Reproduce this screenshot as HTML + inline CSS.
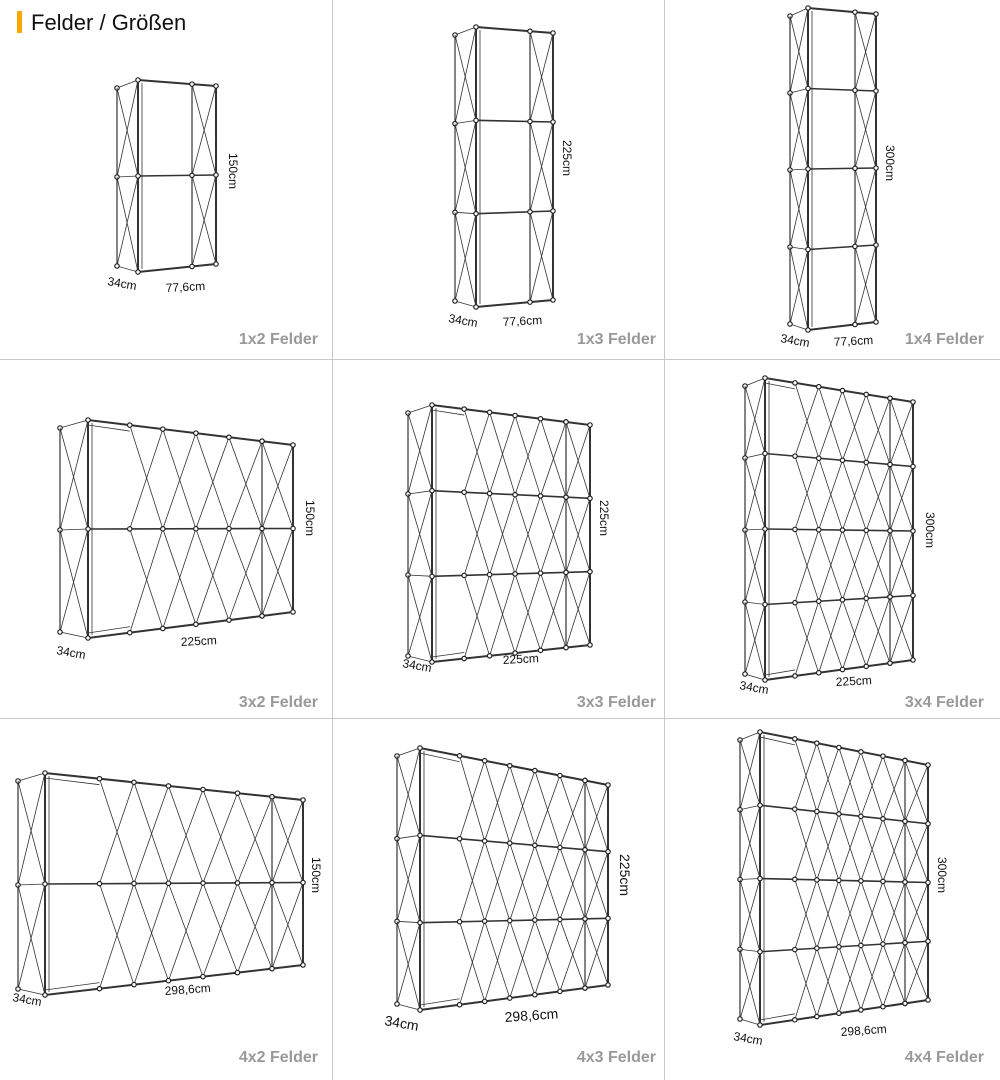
<!DOCTYPE html>
<html><head><meta charset="utf-8"><style>
body{margin:0;background:#fff;width:1000px;height:1080px;overflow:hidden;font-family:"Liberation Sans",sans-serif}
svg{position:absolute;left:0;top:0}
</style></head><body>
<svg id="s" width="1000" height="1080" xmlns="http://www.w3.org/2000/svg">
<rect x="0" y="0" width="1000" height="1080" fill="#fff"/>
<g stroke="#c8c8c8" stroke-width="1">
<line x1="332.5" y1="0" x2="332.5" y2="1080"/><line x1="664.5" y1="0" x2="664.5" y2="1080"/>
<line x1="0" y1="359.5" x2="1000" y2="359.5"/><line x1="0" y1="718.5" x2="1000" y2="718.5"/>
</g>
<rect x="17" y="11" width="5" height="22" fill="#f5a800"/>
<text x="31" y="30" font-size="22" fill="#111">Felder / Größen</text>
<g font-size="16" font-weight="bold" fill="#999" text-anchor="end">
<text x="318" y="344">1x2 Felder</text><text x="656" y="344">1x3 Felder</text><text x="984" y="344">1x4 Felder</text>
<text x="318" y="707">3x2 Felder</text><text x="656" y="707">3x3 Felder</text><text x="984" y="707">3x4 Felder</text>
<text x="318" y="1062">4x2 Felder</text><text x="656" y="1062">4x3 Felder</text><text x="984" y="1062">4x4 Felder</text>
</g>
<g id="fr"></g>
<g font-size="12" fill="#111" id="lb"></g>
</svg>
<script>
var NS="http://www.w3.org/2000/svg",g=document.getElementById('fr'),lb=document.getElementById('lb');
function ln(x1,y1,x2,y2,w){var e=document.createElementNS(NS,'line');e.setAttribute('x1',x1);e.setAttribute('y1',y1);e.setAttribute('x2',x2);e.setAttribute('y2',y2);e.setAttribute('stroke','#333');e.setAttribute('stroke-width',w||0.9);g.appendChild(e);}
function dot(x,y){var e=document.createElementNS(NS,'circle');e.setAttribute('cx',x);e.setAttribute('cy',y);e.setAttribute('r',2.2);e.setAttribute('fill','#fff');e.setAttribute('stroke','#222');e.setAttribute('stroke-width',1.2);g.appendChild(e);}
function tx(x,y,t,rot,fs){var e=document.createElementNS(NS,'text');e.setAttribute('x',x);e.setAttribute('y',y);e.textContent=t;if(fs)e.setAttribute('font-size',fs);if(rot)e.setAttribute('transform','rotate('+rot+' '+x+' '+y+')');lb.appendChild(e);}
function F(sL,L,iR,R,tL,tR,bL,bR,rows,xc){
 function yt(x){return tL+(tR-tL)*(x-L)/(R-L);} function yb(x){return bL+(bR-bL)*(x-L)/(R-L);}
 function yr(x,k){var a=yt(x),b=yb(x);return a+(b-a)*k/rows;}
 var st=tL+8,sb=bL-6;
 ln(sL,st,sL,sb,1.2);ln(L,tL,L,bL,2);
 for(var k=0;k<=rows;k++){var ys=st+(sb-st)*k/rows,ym=yr(L,k);ln(sL,ys,L,ym,0.8);dot(sL,ys);
  if(k<rows){var ys2=st+(sb-st)*(k+1)/rows,ym2=yr(L,k+1);ln(sL,ys,L,ym2,0.8);ln(sL,ys2,L,ym,0.8);}}
 ln(L,tL,R,tR,2);ln(L,bL,R,bR,2);ln(R,tR,R,bR,2);ln(iR,yt(iR)+3,iR,yb(iR)-3,1.2);
 ln(L+4,tL+3,L+4,bL-3,0.8);
 for(var k=1;k<rows;k++){ln(L,yr(L,k),R,yr(R,k),1.6);}
 for(var k=0;k<rows;k++){ln(iR,yr(iR,k),R,yr(R,k+1),0.8);ln(iR,yr(iR,k+1),R,yr(R,k),0.8);}
 for(var k=0;k<=rows;k++){dot(iR,yr(iR,k));dot(R,yr(R,k));dot(L,yr(L,k));}
 if(xc>0){var x0=L+(iR-L)*0.24,w=(iR-x0)/xc;
  for(var c=0;c<xc;c++){var a=x0+c*w,b=a+w;
   for(var k=0;k<rows;k++){ln(a,yr(a,k),b,yr(b,k+1),0.8);ln(a,yr(a,k+1),b,yr(b,k),0.8);}}
  for(var c=0;c<=xc;c++){var a=x0+c*w;for(var k=0;k<=rows;k++)dot(a,yr(a,k));}
  ln(L,tL+5,x0,yt(x0)+6,0.8);ln(L,bL-5,x0,yb(x0)-6,0.8);}
}
F(117,138,192,216,80,86,272,264,2,0);
F(455,476,530,553,27,33,307,300,3,0);
F(790,808,855,876,8,14,330,322,4,0);
F(60,88,262,293,420,445,638,612,2,4);
F(408,432,566,590,405,425,662,645,3,4);
F(745,765,890,913,378,402,680,660,4,4);
F(18,45,272,303,773,800,995,965,2,5);
F(397,420,585,608,748,785,1010,985,3,5);
F(740,760,905,928,732,765,1025,1000,4,5);
tx(107,285,'34cm',10);tx(166,292,'77,6cm',-3);tx(229,153,'150cm',90);
tx(448,322,'34cm',10);tx(503,326,'77,6cm',-3);tx(563,140,'225cm',90);
tx(780,342,'34cm',10);tx(834,346,'77,6cm',-3);tx(886,145,'300cm',90);
tx(56,654,'34cm',10);tx(181,646,'225cm',-3);tx(306,500,'150cm',90);
tx(402,667,'34cm',10);tx(503,664,'225cm',-3);tx(600,500,'225cm',90);
tx(739,689,'34cm',10);tx(836,686,'225cm',-3);tx(926,512,'300cm',90);
tx(12,1001,'34cm',10);tx(165,995,'298,6cm',-4);tx(312,857,'150cm',90);
tx(384,1025,'34cm',10,14);tx(505,1022,'298,6cm',-4,14);tx(620,854,'225cm',90,14);
tx(733,1040,'34cm',10);tx(841,1036,'298,6cm',-4);tx(938,857,'300cm',90);
</script>
</body></html>
